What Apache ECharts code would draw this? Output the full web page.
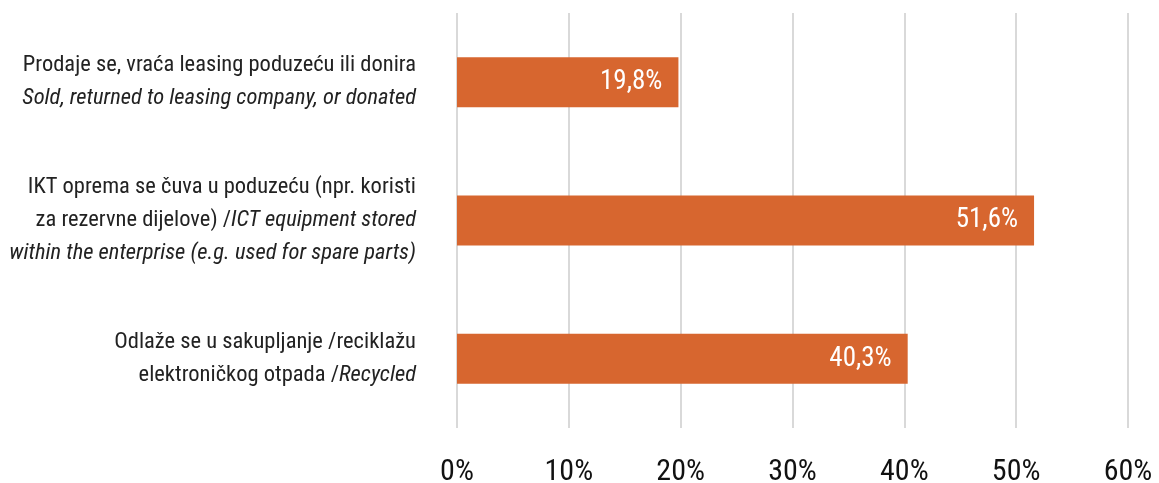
<!DOCTYPE html>
<html>
<head>
<meta charset="utf-8">
<script src="https://cdn.jsdelivr.net/npm/echarts@6/dist/echarts.min.js"></script>
<style>
  html, body { margin: 0; padding: 0; background: #fff; }
  #chart { width: 1159px; height: 483px; }
</style>
</head>
<body>
<div id="chart"></div>
<script>
// Category labels: {n|...} = Croatian (upright), {i|...} = English (italic)
const categories = [
  '{n|Prodaje se, vraća leasing poduzeću ili donira}\n{i|Sold, returned to leasing company, or donated}',
  '{n|IKT oprema se čuva u poduzeću (npr. koristi}\n{n|za rezervne dijelove) /}{i|ICT equipment stored}\n{i|within the enterprise (e.g. used for spare parts)}',
  '{n|Odlaže se u sakupljanje /reciklažu}\n{n|elektroničkog otpada /}{i|Recycled}'
];
const values = [19.8, 51.6, 40.3];
const axisMax = 60;
const tickStep = 10;

const FONT = '"Roboto Condensed", "DejaVu Sans Condensed", sans-serif';

const chart = echarts.init(document.getElementById('chart'), null, { renderer: 'canvas' });

chart.setOption({
  animation: false,
  backgroundColor: '#ffffff',
  grid: { left: 457, right: 31, top: 13, bottom: 55, containLabel: false, outerBoundsMode: 'none' },
  xAxis: {
    type: 'value',
    min: 0,
    max: axisMax,
    interval: tickStep,
    axisLine: { show: false },
    axisTick: { show: false },
    splitLine: { show: true, lineStyle: { color: '#d9d9d9', width: 2 } },
    axisLabel: {
      margin: 29,
      color: '#111111',
      fontFamily: FONT,
      fontSize: 30,
      formatter: v => v + '%'
    }
  },
  yAxis: {
    type: 'category',
    inverse: true,
    data: categories,
    axisLine: { show: false },
    axisTick: { show: false },
    axisLabel: {
      margin: 41,
      align: 'right',
      lineHeight: 33,
      rich: {
        n: { fontFamily: FONT, fontSize: 22.5, color: '#222222', lineHeight: 33, align: 'right' },
        i: { fontFamily: FONT, fontSize: 22.5, color: '#222222', fontStyle: 'italic', lineHeight: 33, align: 'right' }
      }
    }
  },
  series: [{
    type: 'bar',
    data: values,
    barWidth: 50,
    itemStyle: { color: '#d7662f' },
    label: {
      show: true,
      position: 'insideRight',
      distance: 16,
      color: '#ffffff',
      fontFamily: FONT,
      fontSize: 27,
      formatter: p => p.value.toFixed(1).replace('.', ',') + '%'
    }
  }]
});
</script>
</body>
</html>
